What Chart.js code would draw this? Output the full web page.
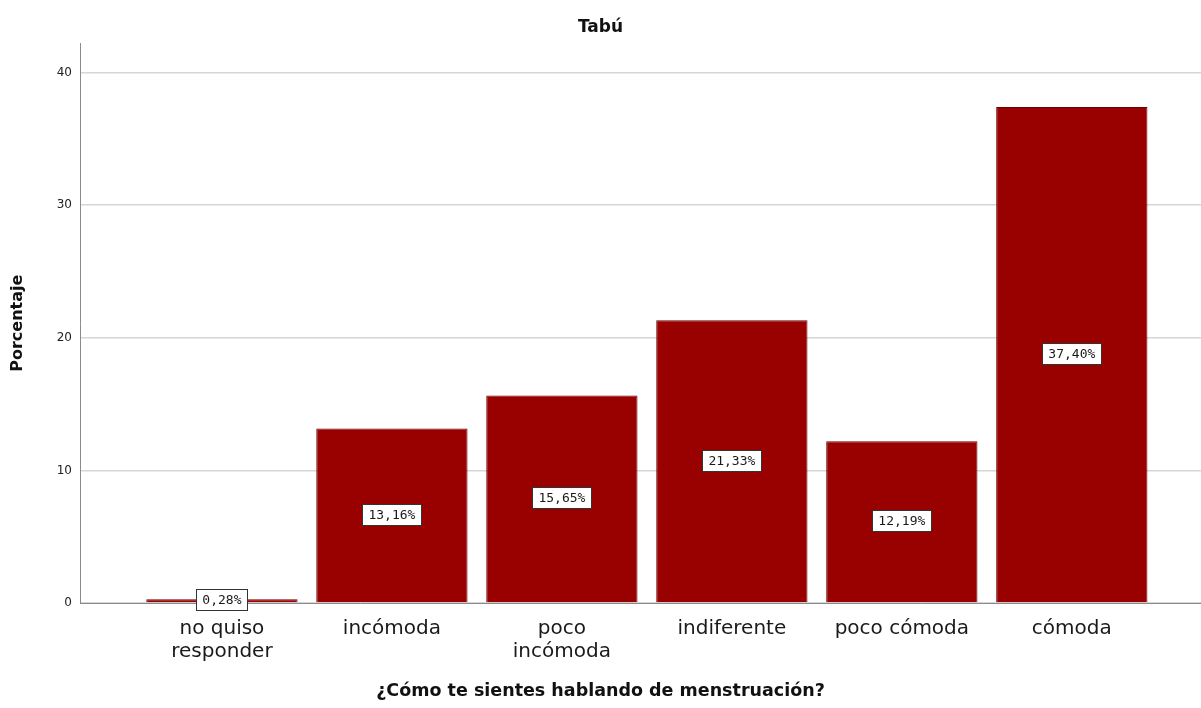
<!DOCTYPE html>
<html>
<head>
<meta charset="utf-8">
<script src="https://cdn.jsdelivr.net/npm/chart.js@4"></script>
<style>
  html, body { margin: 0; padding: 0; background: #fff; }
  #wrap { width: 1201px; height: 708px; }
</style>
</head>
<body>
<div id="wrap"><canvas id="tabuChart" width="1201" height="708"></canvas></div>
<script>
const categories = [['no quiso', 'responder'], 'incómoda', ['poco', 'incómoda'], 'indiferente', 'poco cómoda', 'cómoda'];
const percentages = [0.28, 13.16, 15.65, 21.33, 12.19, 37.40];
const yTicks = [0, 10, 20, 30, 40];

// boxed value labels in the middle of each bar
const boxLabels = {
    id: 'boxLabels',
    afterDatasetsDraw(chart) {
        const ctx = chart.ctx;
        const meta = chart.getDatasetMeta(0);
        ctx.save();
        ctx.font = '13px "DejaVu Sans Mono", monospace';
        ctx.textAlign = 'center';
        ctx.textBaseline = 'middle';
        meta.data.forEach((bar, i) => {
            const txt = percentages[i].toFixed(2).replace('.', ',') + '%';
            const w = Math.round(ctx.measureText(txt).width + 12);
            const h = 21;
            const cy = (bar.y + bar.base) / 2 - 1;
            const x0 = Math.round(bar.x - w / 2), y0 = Math.round(cy - h / 2);
            ctx.fillStyle = '#ffffff';
            ctx.fillRect(x0, y0, w, h);
            ctx.strokeStyle = '#333333';
            ctx.lineWidth = 1;
            ctx.strokeRect(x0 + 0.5, y0 + 0.5, w, h);
            ctx.fillStyle = '#1a1a1a';
            ctx.fillText(txt, bar.x, cy + 1);
        });
        ctx.restore();
    }
};

new Chart(document.getElementById('tabuChart'), {
    type: 'bar',
    data: {
        datasets: [{
            data: percentages.map((v, i) => ({ x: i, y: v })),
            backgroundColor: '#990000',
            borderColor: '#6e0000',
            borderWidth: 1,
            barPercentage: 0.89,
            categoryPercentage: 1,
        }],
    },
    options: {
        responsive: false,
        animation: false,
        plugins: {
            legend: { display: false },
            tooltip: { enabled: false },
            title: {
                display: true,
                text: 'Tabú',
                color: '#111',
                font: { family: 'DejaVu Sans', size: 17, weight: 'bold' },
                padding: { top: 17, bottom: 6 },
            },
            subtitle: {
                display: true,
                position: 'bottom',
                text: '¿Cómo te sientes hablando de menstruación?',
                color: '#111',
                font: { family: 'DejaVu Sans', size: 17.5, weight: 'bold' },
                padding: { top: 0, bottom: 6 },
            },
        },
        scales: {
            x: {
                type: 'linear',
                offset: false,
                min: -0.835,
                max: 5.76,
                afterBuildTicks: s => { s.ticks = categories.map((_, i) => ({ value: i })); },
                afterFit: s => { s.height = 78; },
                grid: { display: false, drawTicks: false, offset: false },
                border: { color: '#8a8a8a', width: 1 },
                ticks: {
                    padding: 15,
                    color: '#1a1a1a',
                    maxRotation: 0,
                    autoSkip: false,
                    font: { family: 'DejaVu Sans', size: 20, lineHeight: 1.12 },
                    callback: v => categories[v],
                },
            },
            y: {
                min: 0,
                max: 42.2,
                afterBuildTicks: s => { s.ticks = yTicks.map(v => ({ value: v })); },
                afterFit: s => { s.width = 80; },
                grid: { color: '#d6d6d6', lineWidth: 1.5, drawTicks: false },
                border: { color: '#8a8a8a', width: 1 },
                ticks: {
                    padding: 8,
                    color: '#222',
                    font: { family: 'DejaVu Sans', size: 12 },
                },
                title: {
                    display: true,
                    text: 'Porcentaje',
                    color: '#111',
                    font: { family: 'DejaVu Sans', size: 16, weight: 'bold' },
                    padding: { top: 8, bottom: 0 },
                },
            },
        },
    },
    plugins: [boxLabels],
});
</script>
</body>
</html>
